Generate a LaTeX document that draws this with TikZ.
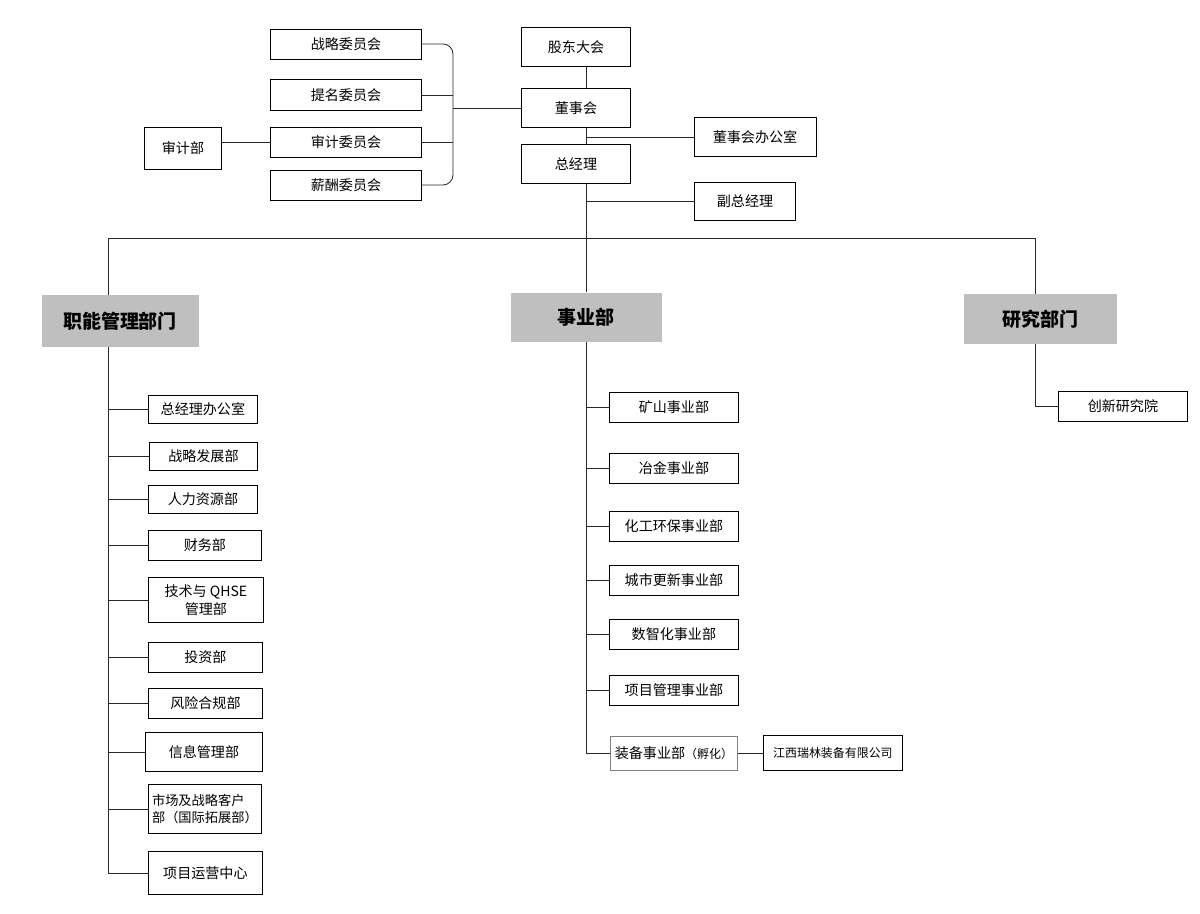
\documentclass[tikz,border=0pt]{standalone}
\usepackage{fontspec}
\setmainfont{Noto Sans CJK SC}
\usetikzlibrary{positioning, calc}
\definecolor{headgray}{RGB}{191,191,191}
\definecolor{linegray}{RGB}{40,40,40}
\newcommand{\px}{0.025cm}

\begin{document}
\begin{tikzpicture}[x=0.025cm, y=-0.025cm,
  box/.style={draw=black, line width=0.6pt, inner sep=0pt, align=center,
    font=\fontsize{10pt}{12.5pt}\selectfont},
  head/.style={fill=headgray, inner sep=0pt,
    font=\fontsize{13.5pt}{16pt}\selectfont\bfseries},
  conn/.style={draw=linegray, line width=0.6pt}]
\useasboundingbox (0,0) rectangle (1200,913);

% Committees
\node[box, minimum width=151*\px, minimum height=30*\px] (zlwy) at (346,44) {战略委员会};
\node[box, minimum width=151*\px, minimum height=31*\px] (tmwy) at (346,95) {提名委员会};
\node[box, minimum width=151*\px, minimum height=30*\px] (sjwy) at (346,142) {审计委员会};
\node[box, minimum width=151*\px, minimum height=30*\px] (xcwy) at (346,185) {薪酬委员会};
\node[box, minimum width=77*\px, minimum height=42*\px] (sjb) at (183,148) {审计部};
\coordinate (br) at (453,108);
\draw[conn, rounded corners=0.25cm] (zlwy.east) -| (br) |- (xcwy.east);
\draw[conn] (tmwy.east) -- (br |- tmwy.east);
\draw[conn] (sjwy.east) -- (br |- sjwy.east);
\draw[conn] (sjb.east |- sjwy.west) -- (sjwy.west);

% Top management
\node[box, minimum width=109*\px, minimum height=39*\px] (gddh) at (576,47) {股东大会};
\node[box, minimum width=109*\px, minimum height=39*\px] (dsh) at (576,108) {董事会};
\node[box, minimum width=109*\px, minimum height=39*\px] (zjl) at (576,164) {总经理};
\node[box, minimum width=122*\px, minimum height=39*\px] (dshbgs) at (755,137) {董事会办公室};
\node[box, minimum width=101*\px, minimum height=38*\px] (fzjl) at (745,201) {副总经理};
\draw[conn] (br) -- (dsh.west);

% Main trunk and bar
\coordinate (mt) at (586,238);
\coordinate (lt) at (108,238);
\coordinate (rt) at (1035,238);
\node[head, minimum width=157*\px, minimum height=52*\px] (znbm) at (120,321) {职能管理部门};
\node[head, minimum width=151*\px, minimum height=49*\px] (sybm) at (586,317) {事业部};
\node[head, minimum width=153*\px, minimum height=50*\px] (yjbm) at (1040,319) {研究部门};
\draw[conn] (gddh.south -| mt) -- (dsh.north -| mt);
\draw[conn] (dsh.south -| mt) -- (zjl.north -| mt);
\draw[conn] (dshbgs.west -| mt) -- (dshbgs.west);
\draw[conn] (fzjl.west -| mt) -- (fzjl.west);
\draw[conn] (zjl.south -| mt) -- (sybm.north -| mt);
\draw[conn] (znbm.north -| lt) -- (lt) -- (rt) -- (yjbm.north -| rt);

% Functional departments
\foreach \n/\x/\y/\w/\h/\t in {l1/148/409/109/28/总经理办公室, l2/149/456/108/28/战略发展部,
    l3/148/499/109/28/人力资源部, l4/148/545/113/30/财务部,
    l5/148/600/115/45/{技术与 QHSE\\管理部}, l6/148/657/114/30/投资部,
    l7/148/703/114/30/风险合规部, l8/145/752/117/39/信息管理部,
    l10/148/873/114/43/项目运营中心} {
  \node[box, anchor=west, minimum width=\w*\px, minimum height=\h*\px] (\n) at (\x,\y) {\t};
  \draw[conn] (lt |- \n.west) -- (\n.west);
}
\node[box, anchor=west, minimum width=113*\px, minimum height=49*\px, align=left,
  font=\fontsize{9.4pt}{12.5pt}\selectfont] (l9) at (148,809) {市场及战略客户\\部（国际拓展部）};
\draw[conn] (lt |- l9.west) -- (l9.west);
\draw[conn] (znbm.south -| lt) -- (lt |- l10.west);

% Business units
\foreach \n/\y/\t in {m1/407/矿山事业部, m2/468/冶金事业部, m3/526/化工环保事业部,
    m4/580/城市更新事业部, m5/634/数智化事业部, m6/690/项目管理事业部} {
  \node[box, anchor=west, minimum width=129*\px, minimum height=30*\px] (\n) at (609,\y) {\t};
  \draw[conn] (mt |- \n.west) -- (\n.west);
}
\node[box, draw=gray, anchor=west, minimum width=127*\px, minimum height=34*\px] (m7) at (610,753)
  {装备事业部{\fontsize{8.5pt}{10pt}\selectfont（孵化）}};
\node[box, anchor=west, minimum width=139*\px, minimum height=35*\px,
  font=\fontsize{8.5pt}{10pt}\selectfont] (jxrl) at (763,753) {江西瑞林装备有限公司};
\draw[conn] (mt |- m7.west) -- (m7.west);
\draw[conn] (sybm.south -| mt) -- (mt |- m7.west);
\draw[conn] (m7.east) -- (jxrl.west);

% Research
\node[box, anchor=west, minimum width=129*\px, minimum height=30*\px] (cxyjy) at (1058,406) {创新研究院};
\draw[conn] (yjbm.south -| rt) |- (cxyjy.west);
\end{tikzpicture}
\end{document}
